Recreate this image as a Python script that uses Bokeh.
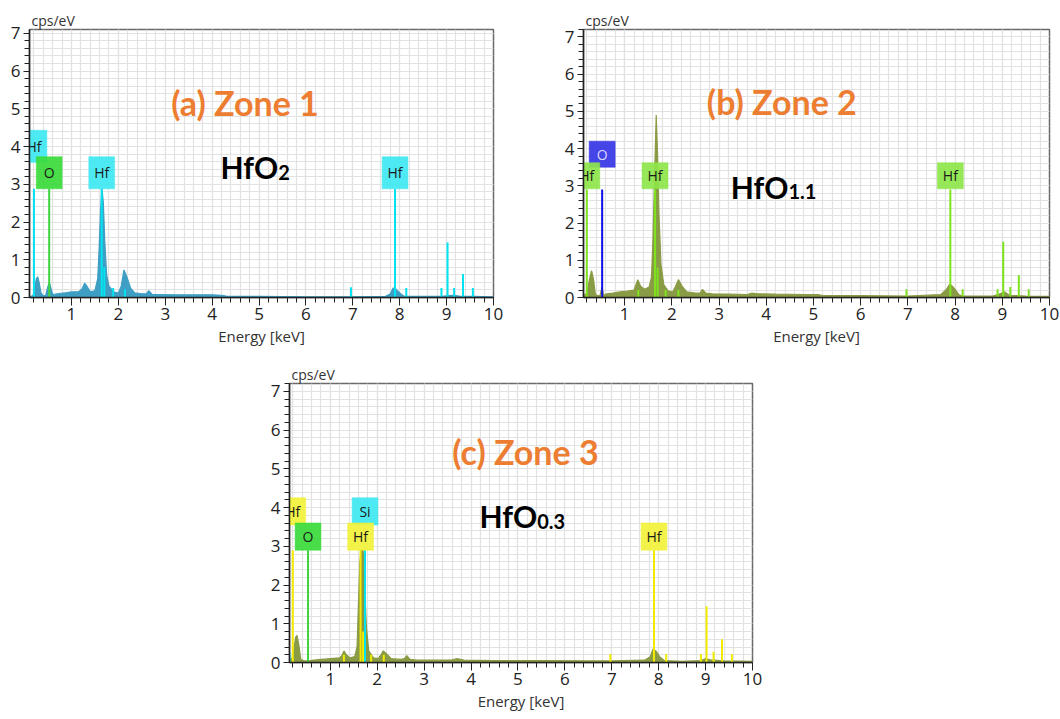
from bokeh.plotting import figure
from bokeh.layouts import row, column
from bokeh.models import SingleIntervalTicker, Spacer, ColumnDataSource
from bokeh.core.properties import value
from bokeh.embed import file_html
from bokeh.resources import INLINE

# ---------------- data ----------------
# Panel (a) Zone 1 spectrum
energy_a = [0.11, 0.18, 0.22, 0.25, 0.28, 0.31, 0.35, 0.40, 0.45, 0.50, 0.53, 0.56, 0.60, 0.70, 0.85,
            1.00, 1.15, 1.22, 1.28, 1.33, 1.40, 1.50, 1.56, 1.59, 1.62, 1.65, 1.68, 1.71, 1.75, 1.80,
            1.90, 2.00, 2.06, 2.12, 2.18, 2.26, 2.35, 2.50, 2.60, 2.65, 2.72, 2.85, 3.20, 3.60, 4.00,
            4.20, 4.30, 4.55, 5.00, 6.00, 7.00, 7.70, 7.80, 7.86, 7.90, 7.95, 8.02, 8.10, 8.50, 8.90,
            9.05, 9.15, 9.30, 9.60, 9.90, 10.0]
counts_a = [0.02, 0.05, 0.25, 0.50, 0.55, 0.40, 0.12, 0.04, 0.06, 0.30, 0.40, 0.25, 0.08, 0.10, 0.12,
            0.15, 0.15, 0.22, 0.38, 0.30, 0.15, 0.18, 0.50, 1.30, 2.30, 2.90, 2.50, 1.50, 0.60, 0.30,
            0.15, 0.12, 0.30, 0.73, 0.55, 0.25, 0.12, 0.10, 0.10, 0.18, 0.08, 0.08, 0.07, 0.07, 0.07,
            0.06, 0.04, 0.03, 0.03, 0.02, 0.02, 0.03, 0.10, 0.25, 0.25, 0.18, 0.10, 0.03, 0.03, 0.03,
            0.05, 0.06, 0.03, 0.03, 0.02, 0.02]
lines_a_e = [0.20, 1.645, 7.90, 1.70, 1.89, 2.14, 6.96, 8.14, 8.89, 9.02, 9.16, 9.35, 9.56]
lines_a_h = [2.88, 2.88, 2.88, 0.80, 0.25, 0.22, 0.27, 0.25, 0.25, 1.46, 0.25, 0.62, 0.25]
o_a_e, o_a_h = [0.525], [2.88]
labels_a = ["Hf", "O", "Hf", "Hf"]
labels_a_e = [0.20, 0.525, 1.645, 7.90]
labels_a_lvl = [2, 1, 1, 1]

# Panel (b) Zone 2 spectrum
energy_b = [0.14, 0.20, 0.25, 0.30, 0.34, 0.38, 0.42, 0.48, 0.52, 0.56, 0.62, 0.75, 0.90, 1.05, 1.20,
            1.28, 1.34, 1.42, 1.52, 1.57, 1.60, 1.63, 1.67, 1.70, 1.73, 1.77, 1.83, 1.92, 2.02, 2.08,
            2.14, 2.22, 2.32, 2.50, 2.60, 2.65, 2.72, 2.85, 3.20, 3.60, 3.70, 3.80, 4.20, 4.80, 5.10,
            5.20, 6.00, 7.00, 7.70, 7.82, 7.88, 7.93, 8.00, 8.08, 8.15, 8.80, 8.95, 9.05, 9.15, 9.50,
            10.0]
counts_b = [0.08, 0.10, 0.45, 0.72, 0.50, 0.10, 0.05, 0.06, 0.28, 0.06, 0.10, 0.12, 0.15, 0.17, 0.20,
            0.48, 0.30, 0.22, 0.28, 0.55, 1.50, 3.00, 4.90, 3.80, 2.20, 0.90, 0.35, 0.18, 0.15, 0.30,
            0.48, 0.30, 0.15, 0.12, 0.12, 0.22, 0.12, 0.10, 0.09, 0.08, 0.12, 0.10, 0.09, 0.08, 0.08,
            0.05, 0.05, 0.04, 0.08, 0.22, 0.35, 0.32, 0.22, 0.08, 0.04, 0.04, 0.10, 0.15, 0.06, 0.04,
            0.03]
lines_b_e = [0.20, 1.645, 7.90, 1.70, 1.29, 1.87, 2.14, 6.97, 8.16, 8.90, 9.02, 9.17, 9.35, 9.56]
lines_b_h = [2.90, 2.90, 2.90, 0.80, 0.20, 0.20, 0.20, 0.22, 0.22, 0.22, 1.50, 0.28, 0.60, 0.22]
o_b_e, o_b_h = [0.525], [2.90]
labels_b = ["Hf", "O", "Hf", "Hf"]
labels_b_e = [0.20, 0.525, 1.645, 7.90]
labels_b_lvl = [1, 2, 1, 1]

# Panel (c) Zone 3 spectrum
energy_c = [0.12, 0.18, 0.22, 0.26, 0.29, 0.33, 0.37, 0.45, 0.55, 0.65, 0.80, 1.00, 1.20, 1.25, 1.29,
            1.34, 1.42, 1.52, 1.57, 1.60, 1.63, 1.66, 1.70, 1.73, 1.77, 1.82, 1.92, 2.02, 2.08, 2.13,
            2.20, 2.30, 2.50, 2.58, 2.63, 2.70, 2.85, 3.30, 3.60, 3.70, 3.85, 4.50, 5.50, 6.50, 7.00,
            7.70, 7.82, 7.88, 7.94, 8.02, 8.12, 8.50, 8.90, 9.00, 9.10, 9.40, 10.0]
counts_c = [0.05, 0.10, 0.30, 0.65, 0.70, 0.45, 0.08, 0.04, 0.04, 0.06, 0.08, 0.10, 0.12, 0.18, 0.30,
            0.20, 0.12, 0.15, 0.40, 1.50, 2.60, 2.90, 2.90, 2.00, 0.90, 0.30, 0.12, 0.10, 0.20, 0.30,
            0.22, 0.10, 0.08, 0.10, 0.18, 0.08, 0.06, 0.06, 0.07, 0.10, 0.06, 0.05, 0.05, 0.04, 0.04,
            0.06, 0.15, 0.35, 0.30, 0.15, 0.05, 0.03, 0.05, 0.10, 0.07, 0.04, 0.03]
lines_c_e = [0.20, 1.645, 7.90, 1.70, 1.29, 1.87, 2.14, 6.97, 8.16, 8.90, 9.02, 9.17, 9.35, 9.56]
lines_c_h = [2.90, 2.90, 2.90, 0.80, 0.20, 0.20, 0.20, 0.22, 0.22, 0.22, 1.45, 0.28, 0.60, 0.22]
o_c_e, o_c_h = [0.525], [2.90]
si_c_e, si_c_h = [1.74, 0.13], [2.90, 0.25]
labels_c = ["Hf", "O", "Si", "Hf", "Hf"]
labels_c_e = [0.20, 0.525, 1.74, 1.645, 7.90]
labels_c_lvl = [2, 1, 2, 1, 1]

ORANGE = "#ED7D31"
FONT = "Open Sans"


def make_panel(width, height, borders, x_start, y_end, spec_e, spec_c, fill,
               line_sets, labels, label_e, label_lvl, label_colors, label_text_colors,
               box, title_txt, title_pos, formula, sub, formula_pos):
    lb, rb, tb, bb = borders
    p = figure(width=width, height=height, x_range=(x_start, 10.0), y_range=(0, y_end),
               output_backend="svg", toolbar_location=None,
               min_border_left=lb, min_border_right=rb, min_border_top=tb, min_border_bottom=bb)
    p.background_fill_color = "white"
    p.border_fill_color = "white"
    p.outline_line_color = "#6a6a6a"
    p.outline_line_width = 1.5

    p.title.text = "cps/eV"
    p.title.text_font = FONT
    p.title.text_font_style = "normal"
    p.title.text_font_size = "14px"
    p.title.text_color = "#333333"
    p.title.standoff = 0
    p.title.offset = 2

    for ax in (p.xaxis, p.yaxis):
        ax.ticker = SingleIntervalTicker(interval=1, num_minor_ticks=5)
        ax.axis_line_color = "#222222"
        ax.axis_line_width = 1.5
        ax.major_tick_line_color = "#222222"
        ax.minor_tick_line_color = "#222222"
        ax.major_tick_in = 0
        ax.minor_tick_in = 0
        ax.major_label_text_font = FONT
        ax.major_label_text_font_size = "17px"
        ax.major_label_text_color = "#222222"
    p.xaxis.major_tick_out = 8
    p.xaxis.minor_tick_out = 5
    p.xaxis.major_label_standoff = 2
    p.yaxis.major_tick_out = 6
    p.yaxis.minor_tick_out = 5
    p.yaxis.major_label_standoff = 3
    p.xaxis.axis_label = "Energy [keV]"
    p.xaxis.axis_label_text_font = FONT
    p.xaxis.axis_label_text_font_style = "normal"
    p.xaxis.axis_label_text_font_size = "15px"
    p.xaxis.axis_label_text_color = "#333333"
    p.xaxis.axis_label_standoff = 3

    for g in (p.xgrid, p.ygrid):
        g.grid_line_color = "#e2e2e2"
        g.minor_grid_line_color = "#e2e2e2"
        g.grid_line_width = 1.2
        g.minor_grid_line_width = 1.2

    src = ColumnDataSource(dict(e=spec_e, c=spec_c))
    p.varea(x="e", y1=0, y2="c", source=src, fill_color=fill, fill_alpha=1.0)
    p.line(x="e", y="c", source=src, line_color=fill, line_width=1.2)

    for le, lh, col, lw in line_sets:
        p.segment(x0=le, y0=[0] * len(le), x1=le, y1=lh, line_color=col, line_width=lw)

    base, step, bh, bw = box
    bottoms = [base + (lv - 1) * step for lv in label_lvl]
    order = sorted(range(len(labels)), key=lambda i: -label_lvl[i])
    bsrc = ColumnDataSource(dict(
        left=[label_e[i] - bw / 2 for i in order],
        right=[label_e[i] + bw / 2 for i in order],
        bottom=[bottoms[i] for i in order],
        top=[bottoms[i] + bh for i in order],
        mid=[bottoms[i] + bh / 2 for i in order],
        x=[label_e[i] for i in order],
        txt=[labels[i] for i in order],
        col=[label_colors[i] for i in order],
        tcol=[label_text_colors[i] for i in order],
    ))
    p.quad(left="left", right="right", bottom="bottom", top="top", source=bsrc,
           fill_color="col", fill_alpha=0.92, line_color="col", line_alpha=0.5)
    p.text(x="x", y="mid", text="txt", source=bsrc, text_color="tcol",
           text_font=value(FONT), text_font_size="14px", text_align="center",
           text_baseline="middle")

    p.text(x=[title_pos[0]], y=[title_pos[1]], text=[title_txt], text_color=ORANGE,
           text_font=value("Lato"), text_font_style="bold", text_font_size="34px",
           text_align="center", text_baseline="middle")
    p.text(x=[formula_pos[0]], y=[formula_pos[1]], text=[formula], text_color="black",
           text_font=value("Lato"), text_font_style="bold", text_font_size="30px",
           text_align="right", text_baseline="alphabetic")
    p.text(x=[formula_pos[0]], y=[formula_pos[1]], text=[sub], text_color="black",
           text_font=value("Lato"), text_font_style="bold", text_font_size="20px",
           text_align="left", text_baseline="alphabetic", y_offset=5)
    return p


CYAN = "#00E3F0"
GREEN = "#3FD43F"
LIME = "#7EE21E"
BLUE = "#1010E8"
YELLOW = "#F2EA00"

p1 = make_panel(540, 362, (29, 47, 29, 65), 0.105, 7.1, energy_a, counts_a, "#3E9EC4",
                [(lines_a_e, lines_a_h, CYAN, 2), (o_a_e, o_a_h, GREEN, 2)],
                labels_a, labels_a_e, labels_a_lvl,
                ["#3FE8F2", "#3ADB3A", "#3FE8F2", "#3FE8F2"],
                ["#1a1a1a"] * 4,
                (2.88, 0.70, 0.85, 0.55),
                "(a) Zone 1", (4.70, 5.17), "HfO", "2", (5.41, 3.45))

p2 = make_panel(520, 362, (43, 11, 25, 60), 0.13, 7.2, energy_b, counts_b, "#8A9B45",
                [(lines_b_e, lines_b_h, LIME, 2), (o_b_e, o_b_h, BLUE, 2)],
                labels_b, labels_b_e, labels_b_lvl,
                ["#8EE64A", "#3535E6", "#8EE64A", "#8EE64A"],
                ["#1a1a1a", "#D8D8FF", "#1a1a1a", "#1a1a1a"],
                (2.92, 0.58, 0.70, 0.55),
                "(b) Zone 2", (4.33, 5.26), "HfO", "1.1", (4.47, 2.97))

p3 = make_panel(520, 357, (40, 17, 20, 57), 0.13, 7.2, energy_c, counts_c, "#8A9B45",
                [(lines_c_e, lines_c_h, YELLOW, 2), (o_c_e, o_c_h, GREEN, 2),
                 (si_c_e, si_c_h, CYAN, 2)],
                labels_c, labels_c_e, labels_c_lvl,
                ["#F2F23A", "#3ADB3A", "#3FE8F2", "#F2F23A", "#F2F23A"],
                ["#1a1a1a"] * 5,
                (2.90, 0.65, 0.70, 0.55),
                "(c) Zone 3", (5.16, 5.44), "HfO", "0.3", (5.41, 3.78))

layout = column(row(p1, p2), row(Spacer(width=249, height=357), p3))
open("out.html", "w").write(file_html(layout, INLINE))
